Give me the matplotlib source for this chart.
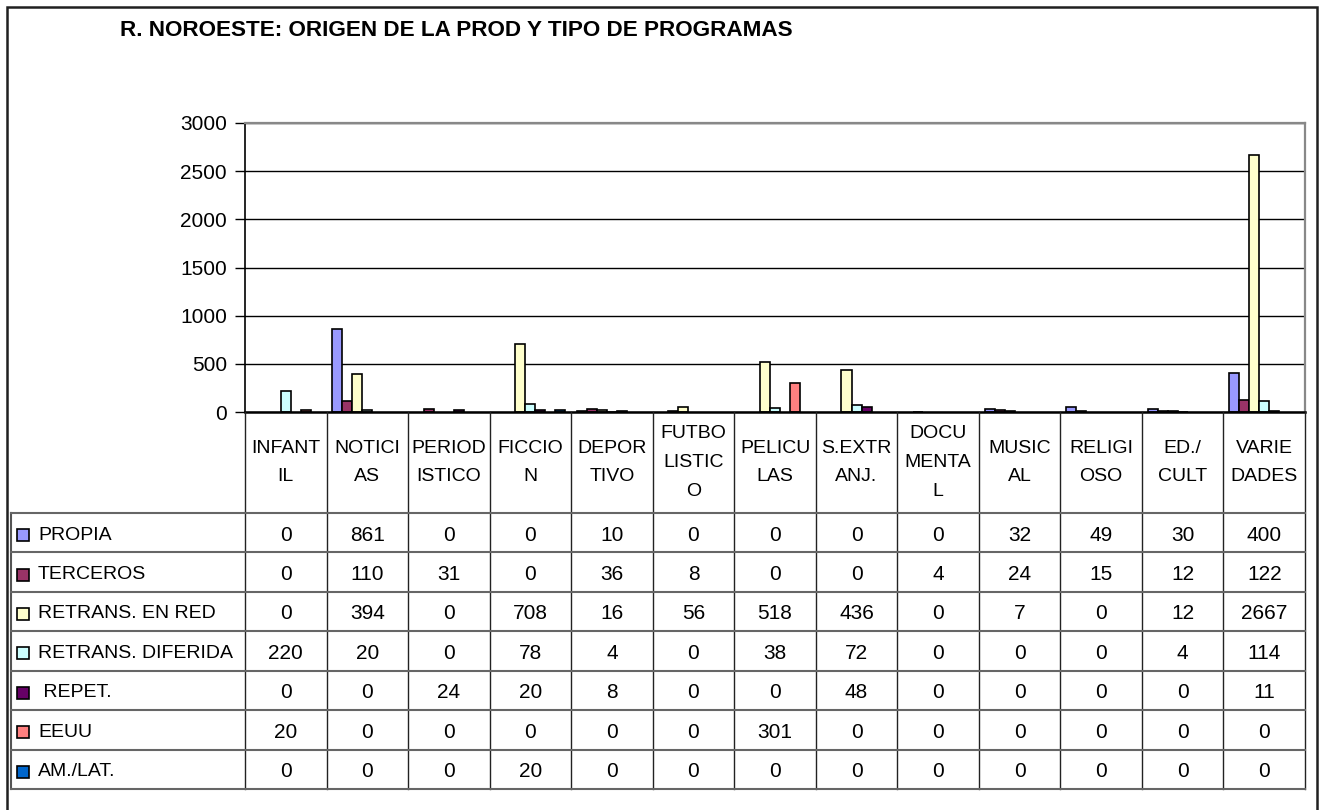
import numpy as np
import matplotlib.pyplot as plt
from matplotlib.patches import Rectangle

plt.rcParams['font.family'] = ['Liberation Sans', 'DejaVu Sans']

categorias = ['INFANT\nIL', 'NOTICI\nAS', 'PERIOD\nISTICO', 'FICCIO\nN', 'DEPOR\nTIVO',
              'FUTBO\nLISTIC\nO', 'PELICU\nLAS', 'S.EXTR\nANJ.', 'DOCU\nMENTA\nL',
              'MUSIC\nAL', 'RELIGI\nOSO', 'ED./\nCULT', 'VARIE\nDADES']

series = ['PROPIA', 'TERCEROS', 'RETRANS. EN RED', 'RETRANS. DIFERIDA', ' REPET.', 'EEUU', 'AM./LAT.']

propia = [0, 861, 0, 0, 10, 0, 0, 0, 0, 32, 49, 30, 400]
terceros = [0, 110, 31, 0, 36, 8, 0, 0, 4, 24, 15, 12, 122]
retrans_red = [0, 394, 0, 708, 16, 56, 518, 436, 0, 7, 0, 12, 2667]
retrans_dif = [220, 20, 0, 78, 4, 0, 38, 72, 0, 0, 0, 4, 114]
repet = [0, 0, 24, 20, 8, 0, 0, 48, 0, 0, 0, 0, 11]
eeuu = [20, 0, 0, 0, 0, 0, 301, 0, 0, 0, 0, 0, 0]
amlat = [0, 0, 0, 20, 0, 0, 0, 0, 0, 0, 0, 0, 0]

valores = [propia, terceros, retrans_red, retrans_dif, repet, eeuu, amlat]
colores = ['#9999FF', '#993366', '#FFFFCC', '#CCFFFF', '#660066', '#FF8080', '#0066CC']

W, H = 1320, 810
fig = plt.figure(figsize=(W / 100, H / 100), dpi=100)

# marco exterior del grafico
fig.add_artist(Rectangle((7 / W, -0.02), 1310 / W, (H - 7) / H + 0.02,
                         transform=fig.transFigure, fill=False,
                         edgecolor='#202020', linewidth=1.8, clip_on=False))

fig.text(120 / W, 1 - 31 / H, 'R. NOROESTE: ORIGEN DE LA PROD Y TIPO DE PROGRAMAS',
         fontsize=16.2, fontweight='bold', ha='left', va='center')

# zona del grafico de barras
px_l, px_r, px_t, px_b = 245, 1305, 123, 412
ax = fig.add_axes([px_l / W, 1 - px_b / H, (px_r - px_l) / W, (px_b - px_t) / H])

n = len(categorias)
x = np.arange(n)
w = 0.123
for k, (vals, c) in enumerate(zip(valores, colores)):
    # los valores nulos no dejan borde sobre el eje
    lw = [1.2 if v else 0 for v in vals]
    ax.bar(x + (k - 3) * w, vals, width=w, color=c, edgecolor='black', linewidth=lw, zorder=3)

ax.set_xlim(-0.5, n - 0.5)
ax.set_ylim(0, 3000)
ax.set_yticks(np.arange(0, 3001, 500))
ax.yaxis.grid(True, color='black', linewidth=1.0, zorder=0)
ax.set_xticks([])
ax.tick_params(axis='y', direction='out', length=7, width=1, labelsize=15, pad=6)
for s in ['top', 'right']:
    ax.spines[s].set_color('#888888')
    ax.spines[s].set_linewidth(1.6)
ax.spines['left'].set_linewidth(1.2)
ax.spines['bottom'].set_linewidth(1.8)
ax.spines['bottom'].set_zorder(4)

# tabla de datos debajo del grafico
tb_l, tb_b = 11, 789
colw = (px_r - px_l) / n
row_h = (tb_b - 513) / len(series)
hdr = (513 - px_b) / row_h
x0 = -0.5 - (px_l - tb_l) / colw
tax = fig.add_axes([tb_l / W, 1 - tb_b / H, (px_r - tb_l) / W, (tb_b - px_b) / H])
tax.set_xlim(x0, n - 0.5)
tax.set_ylim(len(series), -hdr)
tax.axis('off')

for j in range(n + 1):
    tax.plot([j - 0.5, j - 0.5], [-hdr, len(series)], color='#222222', linewidth=1.0, clip_on=False)
tax.plot([x0, x0], [0, len(series)], color='#555555', linewidth=1.5, clip_on=False)
for r in range(len(series) + 1):
    tax.plot([x0, n - 0.5], [r, r], color='#666666', linewidth=1.5, clip_on=False)

for i, cat in enumerate(categorias):
    tax.text(i, -hdr / 2, cat, ha='center', va='center', fontsize=14, linespacing=1.9)

yc = 0.56  # centro vertical del texto en cada fila
for r, (nombre, vals, c) in enumerate(zip(series, valores, colores)):
    tax.plot([x0 + 12 / colw], [r + yc], marker='s', markersize=8.5,
             markerfacecolor=c, markeredgecolor='black', markeredgewidth=1.2, clip_on=False)
    tax.text(x0 + 27 / colw, r + yc, nombre, ha='left', va='center', fontsize=14)
    for i, v in enumerate(vals):
        tax.text(i, r + yc, str(v), ha='center', va='center', fontsize=15)

fig.savefig('out.png', dpi=100)
